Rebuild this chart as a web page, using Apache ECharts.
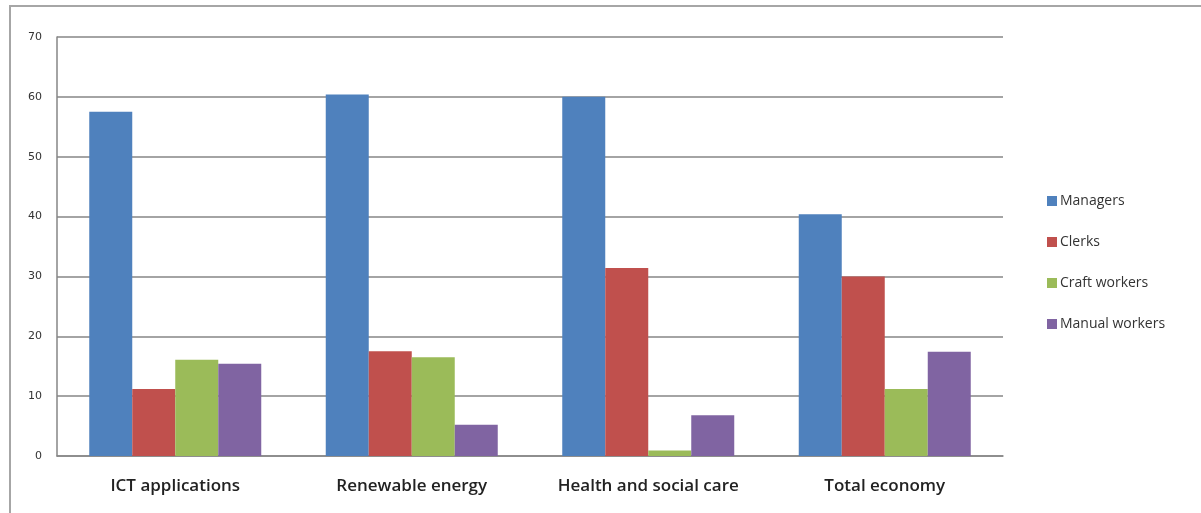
<!DOCTYPE html>
<html>
<head>
<meta charset="utf-8">
<script src="https://cdn.jsdelivr.net/npm/echarts@6/dist/echarts.min.js"></script>
<style>
  html, body { margin: 0; padding: 0; background: #fff; }
  #main { width: 1201px; height: 513px; }
</style>
</head>
<body>
<div id="main"></div>
<script>
// chart data
var categories = ['ICT applications', 'Renewable energy', 'Health and social care', 'Total economy'];
var seriesNames = ['Managers', 'Clerks', 'Craft workers', 'Manual workers'];
var managers = [57.5, 60.4, 60.0, 40.4];
var clerks = [11.2, 17.5, 31.4, 30.0];
var craftWorkers = [16.1, 16.5, 0.9, 11.2];
var manualWorkers = [15.4, 5.2, 6.8, 17.4];
var yTicks = [0, 10, 20, 30, 40, 50, 60, 70];

var colors = ['#4f81bd', '#c0504d', '#9bbb59', '#8064a2'];
var values = [managers, clerks, craftWorkers, manualWorkers];

var myChart = echarts.init(document.getElementById('main'));

var series = seriesNames.map(function (name, i) {
    return {
        name: name,
        type: 'bar',
        data: values[i],
        barWidth: 43,
        barGap: '0%',
        itemStyle: { color: colors[i] }
    };
});

var option = {
    animation: false,
    backgroundColor: '#fff',
    color: colors,
    graphic: [{
        type: 'rect',
        shape: { x: 10, y: 6, width: 1300, height: 600 },
        style: { fill: 'none', stroke: '#a6a6a6', lineWidth: 2 }
    }],
    grid: { left: 57, top: 37, right: 198, bottom: 57 },
    legend: {
        orient: 'vertical',
        left: 1042,
        top: 189,
        itemWidth: 10,
        itemHeight: 10,
        itemGap: 27,
        icon: 'rect',
        textStyle: { fontFamily: 'Open Sans', fontSize: 14, color: '#333', padding: [0, 0, 0, -2] },
        data: seriesNames
    },
    xAxis: {
        type: 'category',
        data: categories,
        axisLine: { lineStyle: { color: '#868686', width: 1.5 } },
        axisTick: { show: false },
        axisLabel: { fontFamily: 'Open Sans', fontSize: 17, fontWeight: 600, color: '#222', margin: 22 }
    },
    yAxis: {
        type: 'value',
        min: yTicks[0],
        max: yTicks[yTicks.length - 1],
        interval: 10,
        axisLine: { show: true, lineStyle: { color: '#868686', width: 1.5 } },
        axisTick: { show: false },
        splitLine: { lineStyle: { color: '#868686', width: 1.5 } },
        axisLabel: { fontFamily: 'DejaVu Sans', fontSize: 11, color: '#333', margin: 15 }
    },
    series: series
};

myChart.setOption(option);
</script>
</body>
</html>
